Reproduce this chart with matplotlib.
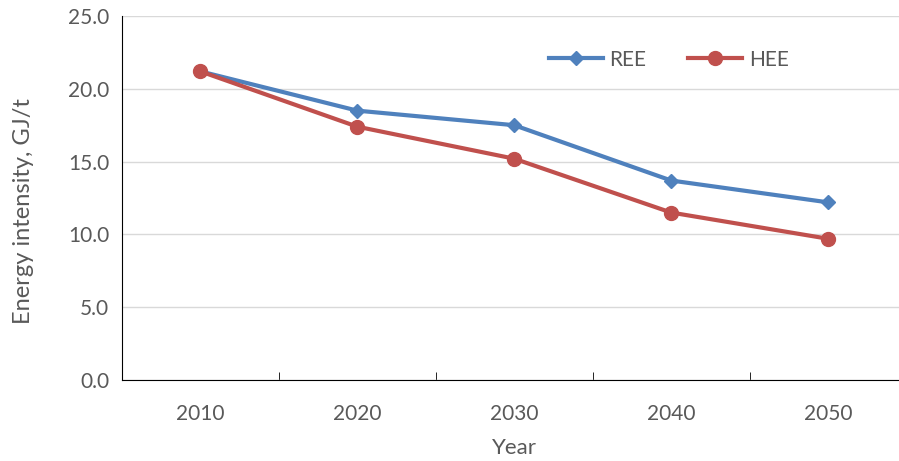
import matplotlib.pyplot as plt

years = ["2010", "2020", "2030", "2040", "2050"]
ree = [21.2, 18.5, 17.5, 13.7, 12.2]
hee = [21.2, 17.4, 15.2, 11.5, 9.7]

plt.rcParams['font.family'] = ['Lato', 'DejaVu Sans']
grey = '#595959'

fig = plt.figure(figsize=(8.99, 4.61), dpi=100)
ax = fig.add_axes([121.7 / 899, 81 / 461, 785 / 899, 364 / 461])

x = range(len(years))
ax.plot(x, ree, color='#4F81BD', lw=3, marker='D', ms=7, label='REE')
ax.plot(x, hee, color='#C0504D', lw=3, marker='o', ms=10, label='HEE')

ax.set_xlim(-0.5, len(years) - 0.5)
ax.set_ylim(0, 25)
ax.set_yticks([0, 5, 10, 15, 20, 25])
ax.set_yticklabels([f"{v:.1f}" for v in [0, 5, 10, 15, 20, 25]])
ax.set_xticks(list(x))
ax.set_xticklabels(years)
ax.set_xticks([i + 0.5 for i in range(len(years) - 1)], minor=True)
ax.tick_params(axis='x', which='major', length=0, pad=17, labelsize=15, labelcolor=grey)
ax.tick_params(axis='x', which='minor', direction='in', length=6, color='black')
ax.tick_params(axis='y', length=0, pad=9, labelsize=15, labelcolor=grey)

ax.grid(axis='y', color='#D9D9D9', lw=1)
ax.set_axisbelow(True)
for s in ['top', 'right']:
    ax.spines[s].set_visible(False)
ax.spines['left'].set_color('black')
ax.spines['bottom'].set_color('black')

ax.set_xlabel('Year', fontsize=16, color=grey, labelpad=10)
ax.set_ylabel('Energy intensity, GJ/t', fontsize=17, color=grey)
ax.yaxis.set_label_coords(-0.112, 0.464)

leg = ax.legend(ncol=2, frameon=False, loc='center', bbox_to_anchor=(0.697, 0.88),
                fontsize=15, handlelength=2.6, columnspacing=2.0, handletextpad=0.3)
for t in leg.get_texts():
    t.set_color(grey)

plt.savefig("out.png", dpi=100)
